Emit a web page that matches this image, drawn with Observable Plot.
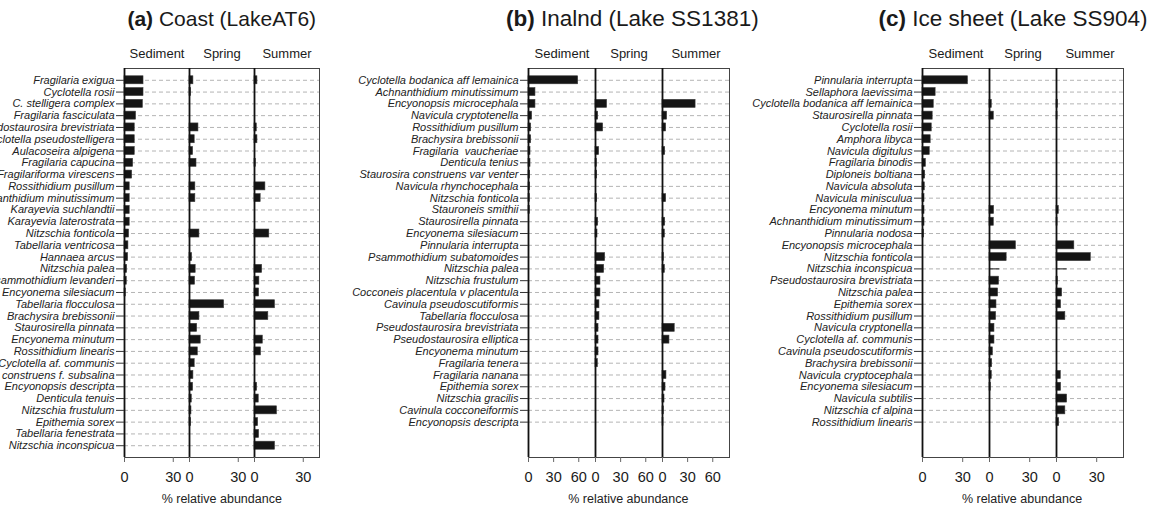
<!DOCTYPE html>
<html>
<head>
<meta charset="utf-8">
<script src="https://cdn.jsdelivr.net/npm/d3@7"></script>
<script src="https://cdn.jsdelivr.net/npm/@observablehq/plot@0.6"></script>
<style>
  html, body { margin: 0; padding: 0; background: #fff; }
  #chart { position: relative; width: 1156px; height: 511px; overflow: hidden; background: #fff;
           font-family: "Liberation Sans", Arial, Helvetica, sans-serif; color: #1a1a1a; }
  .panel { position: absolute; top: 0; }
  .title { position: absolute; white-space: nowrap; transform: translateX(-50%); }
  .xlabel { position: absolute; top: 492px; white-space: nowrap; font-size: 12.5px; transform: translateX(-50%); color: #222; }
  .panel svg g[aria-label="y-axis tick label"] text { font-style: italic; }
</style>
</head>
<body>
<div id="chart"></div>
<script>
// Sample seasons shown as the three columns of every panel
const seasons = ["Sediment", "Spring", "Summer"];

// (a) Coast, Lake AT6 — % relative abundance
const coastTaxa = [
  "Fragilaria exigua", "Cyclotella rosii", "C. stelligera complex", "Fragilaria fasciculata",
  "Pseudostaurosira brevistriata", "Cyclotella pseudostelligera", "Aulacoseira alpigena",
  "Fragilaria capucina", "Fragilariforma virescens", "Rossithidium pusillum",
  "Achnanthidium minutissimum", "Karayevia suchlandtii", "Karayevia laterostrata",
  "Nitzschia fonticola", "Tabellaria ventricosa", "Hannaea arcus", "Nitzschia palea",
  "Psammothidium levanderi", "Encyonema silesiacum", "Tabellaria flocculosa",
  "Brachysira brebissonii", "Staurosirella pinnata", "Encyonema minutum",
  "Rossithidium linearis", "Cyclotella af. communis", "Staurosira construens f. subsalina",
  "Encyonopsis descripta", "Denticula tenuis", "Nitzschia frustulum", "Epithemia sorex",
  "Tabellaria fenestrata", "Nitzschia inconspicua"
];
const coastSediment = [11.7, 11.7, 11.3, 7.1, 6.3, 6.3, 6.3, 5.3, 4.7, 3.2, 3.2, 3.2, 3.2, 2.8, 2.4, 2.2,
  1.6, 1.4, 0.8, 0, 0, 0, 0, 0, 0, 0, 0, 0, 0, 0, 0, 0];
const coastSpring = [2.4, 1.0, 0, 0, 5.5, 3.2, 2.2, 4.3, 0, 3.6, 3.6, 0, 0, 6.1, 0, 1.6,
  3.8, 3.4, 0, 21.3, 6.1, 4.7, 6.9, 5.1, 3.2, 2.4, 2.2, 1.4, 1.2, 1.0, 0, 0];
const coastSummer = [1.8, 0, 0, 0, 1.4, 1.8, 0, 0.8, 0, 6.7, 3.8, 0, 0, 9.1, 0, 0,
  4.7, 3.0, 2.8, 12.6, 8.5, 0, 5.1, 4.0, 0, 0, 1.6, 2.6, 13.8, 2.2, 2.8, 12.6];

// (b) Inland, Lake SS1381
const inlandTaxa = [
  "Cyclotella bodanica aff lemainica", "Achnanthidium minutissimum", "Encyonopsis microcephala",
  "Navicula cryptotenella", "Rossithidium pusillum", "Brachysira brebissonii",
  "Fragilaria  vaucheriae", "Denticula tenius", "Staurosira construens var venter",
  "Navicula rhynchocephala", "Nitzschia fonticola", "Stauroneis smithii", "Staurosirella pinnata",
  "Encyonema silesiacum", "Pinnularia interrupta", "Psammothidium subatomoides", "Nitzschia palea",
  "Nitzschia frustulum", "Cocconeis placentula v placentula", "Cavinula pseudoscutiformis",
  "Tabellaria flocculosa", "Pseudostaurosira brevistriata", "Pseudostaurosira elliptica",
  "Encyonema minutum", "Fragilaria tenera", "Fragilaria nanana", "Epithemia sorex",
  "Nitzschia gracilis", "Cavinula cocconeiformis", "Encyonopsis descripta"
];
const inlandSediment = [59.3, 8.3, 8.3, 4.3, 3.2, 3.2, 2.4, 2.4, 2.0, 2.0, 1.6, 1.6, 0, 0, 0,
  0, 0, 0, 0, 0, 0, 0, 0, 0, 0, 0, 0, 0, 0, 0];
const inlandSpring = [0, 0, 13.8, 3.2, 9.1, 0, 4.3, 1.6, 2.0, 0, 2.0, 0, 3.2, 2.4, 0,
  11.5, 10.3, 5.9, 5.9, 4.7, 4.7, 3.6, 3.6, 3.6, 2.8, 0, 0, 0, 0, 0];
const inlandSummer = [0, 0, 39.5, 5.5, 4.3, 0, 3.2, 0, 0, 0, 4.3, 0, 3.2, 2.8, 0,
  1.6, 2.8, 0, 0, 0, 0, 14.6, 8.3, 0, 0, 4.7, 3.6, 2.4, 1.6, 1.2];

// (c) Ice sheet, Lake SS904
const iceTaxa = [
  "Pinnularia interrupta", "Sellaphora laevissima", "Cyclotella bodanica aff lemainica",
  "Staurosirella pinnata", "Cyclotella rosii", "Amphora libyca", "Navicula digitulus",
  "Fragilaria binodis", "Diploneis boltiana", "Navicula absoluta", "Navicula minisculua",
  "Encyonema minutum", "Achnanthidium minutissimum", "Pinnularia nodosa",
  "Encyonopsis microcephala", "Nitzschia fonticola", "Nitzschia inconspicua",
  "Pseudostaurosira brevistriata", "Nitzschia palea", "Epithemia sorex", "Rossithidium pusillum",
  "Navicula cryptonella", "Cyclotella af. communis", "Cavinula pseudoscutiformis",
  "Brachysira brebissonii", "Navicula cryptocephala", "Encyonema silesiacum",
  "Navicula subtilis", "Nitzschia cf alpina", "Rossithidium linearis"
];
const iceSediment = [33.9, 9.8, 8.4, 7.6, 6.9, 6.1, 5.4, 2.5, 2.0, 1.7, 1.5, 1.5, 1.5, 1.2, 0,
  0, 0, 0, 0, 0, 0, 0, 0, 0, 0, 0, 0, 0, 0, 0];
const iceSpring = [0, 0, 1.7, 3.2, 0, 0, 0, 0, 0, 0, 0, 3.4, 3.2, 0, 19.7,
  12.8, 7.6, 7.1, 6.4, 5.2, 4.9, 3.7, 3.7, 2.5, 2.0, 1.7, 1.0, 0, 0, 0];
const iceSummer = [0, 0, 1.0, 0.8, 0, 0, 0, 0, 0, 0, 0, 1.7, 0.8, 0, 13.3,
  25.6, 7.9, 1.0, 4.2, 3.4, 6.6, 0, 0, 0, 0, 3.2, 3.4, 7.9, 6.6, 2.0];
// taxa drawn as a hairline instead of a solid bar
const iceHairlineTaxa = ["Nitzschia inconspicua"];

// Axis ticks and panel headings
const ticksNarrow = [0, 30];
const ticksWide = [0, 30, 60];
const panelTags = ["(a)", "(b)", "(c)"];
const panelNames = ["Coast (LakeAT6)", "Inalnd (Lake SS1381)", "Ice sheet (Lake SS904)"];
const xLabel = "% relative abundance";

const panels = [
  {taxa: coastTaxa, values: [coastSediment, coastSpring, coastSummer], xmax: 40, ticks: ticksNarrow, hairline: []},
  {taxa: inlandTaxa, values: [inlandSediment, inlandSpring, inlandSummer], xmax: 80, ticks: ticksWide, hairline: []},
  {taxa: iceTaxa, values: [iceSediment, iceSpring, iceSummer], xmax: 50, ticks: ticksNarrow, hairline: iceHairlineTaxa}
];

// page placement of each panel's svg and heading
const layout = [
  {left: 0, width: 332, marginLeft: 123.5, marginRight: 12, titleShift: 0, titleSize: 21, titleTop: 7},
  {left: 338, width: 402, marginLeft: 189.7, marginRight: 11, titleShift: 4, titleSize: 22.5, titleTop: 6},
  {left: 742, width: 414, marginLeft: 179.3, marginRight: 33.3, titleShift: -9, titleSize: 22.5, titleTop: 6}
];

const ROWS = 32; // row slots per panel
const chart = document.getElementById("chart");

panels.forEach((p, k) => {
  const L = layout[k];
  const rows = p.taxa.flatMap((taxon, i) =>
    seasons.map((season, j) => ({taxon, i, season, value: p.values[j][i]})));
  const solid = rows.filter(d => !p.hairline.includes(d.taxon) && d.value > 0);
  const thin = rows.filter(d => p.hairline.includes(d.taxon) && d.value > 0);
  const index = p.taxa.map((_, i) => i);

  const plot = Plot.plot({
    width: L.width,
    height: 511,
    marginLeft: L.marginLeft,
    marginRight: L.marginRight,
    marginTop: 68,
    marginBottom: 54,
    style: {fontFamily: "'Liberation Sans', Arial, Helvetica, sans-serif", color: "#1a1a1a", background: "transparent"},
    fx: {domain: seasons, padding: 0, axis: null},
    x: {domain: [0, p.xmax], axis: null},
    y: {domain: [-1, ROWS], reverse: true, axis: null},
    marks: [
      Plot.ruleY(index, {y: d => d, stroke: "#b4b4b4", strokeWidth: 1, strokeDasharray: "4,3"}),
      Plot.rectX(solid, {fx: "season", x1: 0, x2: "value", y1: d => d.i - 0.34, y2: d => d.i + 0.34,
        fill: "#151515", stroke: "#3a3a3a", strokeWidth: 0.6}),
      Plot.ruleY(thin, {fx: "season", y: "i", x1: 0, x2: "value", stroke: "#151515", strokeWidth: 1}),
      Plot.frame({stroke: "#444", strokeWidth: 1}),
      Plot.ruleX([0], {stroke: "#111", strokeWidth: 1.8}),
      Plot.axisFx({anchor: "top", label: null, tickSize: 0, tickPadding: 11, fontSize: 13}),
      Plot.axisX({anchor: "bottom", ticks: p.ticks, tickFormat: d => String(d), label: null,
        tickSize: 5, tickPadding: 9, fontSize: 14.5, stroke: "#666", fill: "#1a1a1a"}),
      Plot.axisY({anchor: "left", ticks: index, tickFormat: i => p.taxa[i], label: null,
        tickSize: 8, tickPadding: 2, fontSize: 11, fontStyle: "italic", stroke: "#333", fill: "#222"})
    ]
  });

  const holder = document.createElement("div");
  holder.className = "panel";
  holder.style.left = L.left + "px";
  holder.appendChild(plot);
  chart.appendChild(holder);

  const frameLeft = L.left + L.marginLeft;
  const frameRight = L.left + L.width - L.marginRight;
  const center = (frameLeft + frameRight) / 2;

  const title = document.createElement("div");
  title.className = "title";
  title.style.left = (center + L.titleShift) + "px";
  title.style.top = L.titleTop + "px";
  title.style.fontSize = L.titleSize + "px";
  const tag = document.createElement("b");
  tag.textContent = panelTags[k];
  title.appendChild(tag);
  title.appendChild(document.createTextNode(" " + panelNames[k]));
  chart.appendChild(title);

  const xl = document.createElement("div");
  xl.className = "xlabel";
  xl.style.left = center + "px";
  xl.textContent = xLabel;
  chart.appendChild(xl);
});
</script>
</body>
</html>
